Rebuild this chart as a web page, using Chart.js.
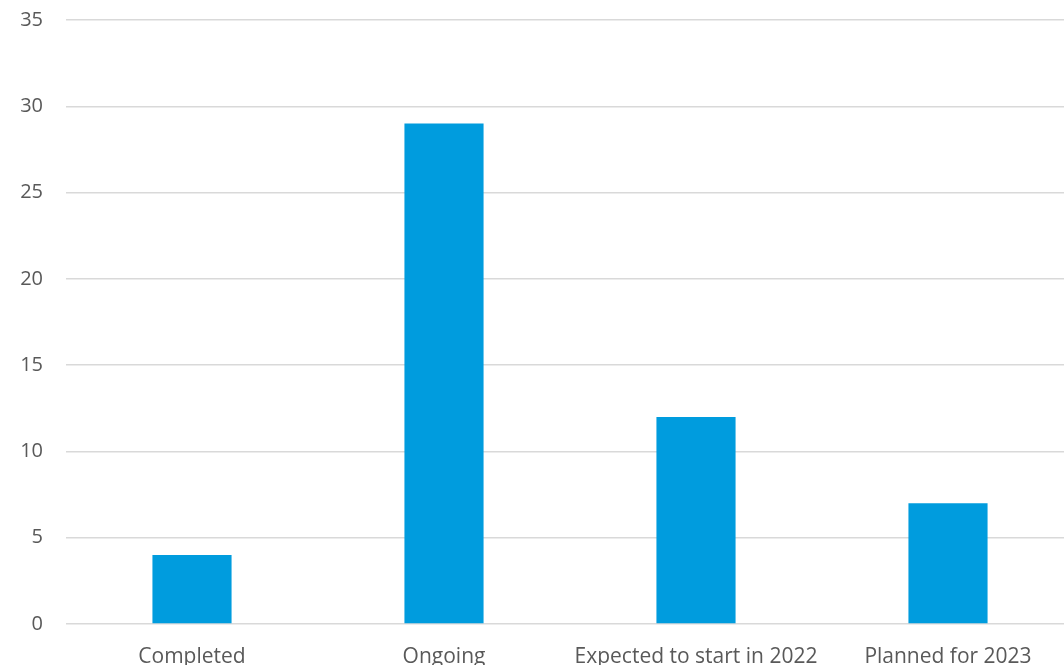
<!DOCTYPE html>
<html>
<head>
<meta charset="utf-8">
<script src="https://cdn.jsdelivr.net/npm/chart.js@4/dist/chart.umd.min.js"></script>
<style>
html,body{margin:0;padding:0;background:#fff;overflow:hidden;}
#wrap{width:1064px;height:665px;overflow:hidden;position:relative;}
#box{width:1074px;height:665px;position:absolute;left:0;top:0;}
</style>
</head>
<body>
<div id="wrap"><div id="box"><canvas id="c"></canvas></div></div>
<script>
const categories = ["Completed", "Ongoing", "Expected to start in 2022", "Planned for 2023"];
const values = [4, 29, 12, 7];
const yMin = 0, yMax = 35, yStep = 5;

new Chart(document.getElementById('c'), {
  type: 'bar',
  data: {
    labels: categories,
    datasets: [{
      data: values,
      backgroundColor: '#009cde',
      borderWidth: 0,
      categoryPercentage: 1,
      barPercentage: 0.314
    }]
  },
  options: {
    responsive: true,
    maintainAspectRatio: false,
    animation: false,
    layout: { padding: { top: 20, right: 0, left: 0, bottom: 0 } },
    plugins: { legend: { display: false }, tooltip: { enabled: false } },
    scales: {
      x: {
        grid: { display: false },
        border: { display: false },
        ticks: { color: '#595959', font: { family: 'Open Sans', size: 21 }, padding: 12, maxRotation: 0, autoSkip: false },
        afterFit: (s) => { s.height = 41; s.paddingLeft = 0; s.paddingRight = 0; }
      },
      y: {
        min: yMin, max: yMax,
        ticks: { stepSize: yStep, color: '#595959', font: { family: 'Open Sans', size: 20 }, padding: 23 },
        grid: { color: '#d9d9d9', lineWidth: 1.5, drawTicks: false },
        border: { display: false },
        afterFit: (s) => { s.width = 66; s.paddingTop = 0; s.paddingBottom = 0; }
      }
    }
  }
});
</script>
</body>
</html>
